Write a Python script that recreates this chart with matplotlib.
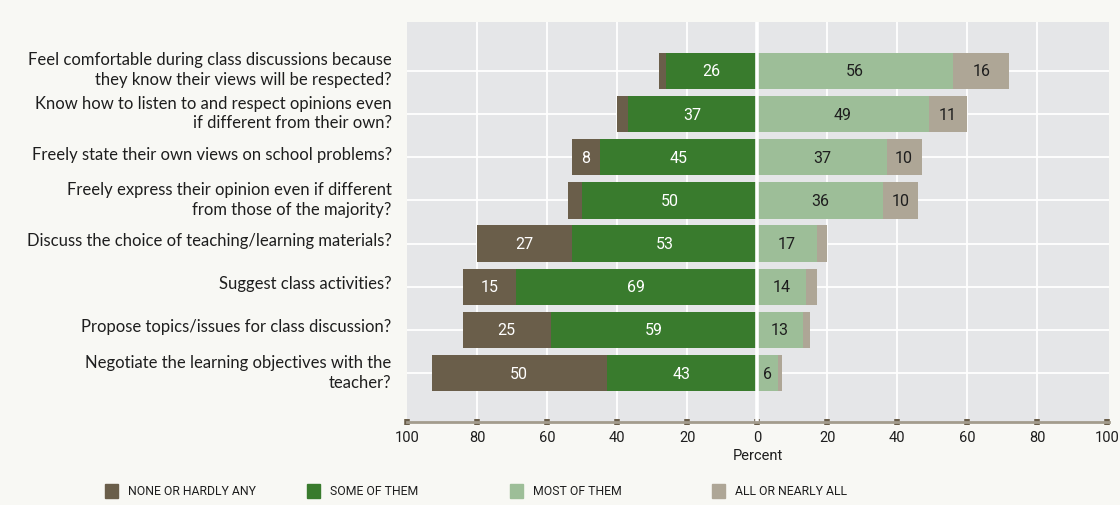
import matplotlib
matplotlib.use("Agg")
import matplotlib.pyplot as plt
import matplotlib.transforms as mtransforms
import numpy as np

# ---- data (percent) ----
questions = [
    "Feel comfortable during class discussions because\nthey know their views will be respected?",
    "Know how to listen to and respect opinions even\nif different from their own?",
    "Freely state their own views on school problems?",
    "Freely express their opinion even if different\nfrom those of the majority?",
    "Discuss the choice of teaching/learning materials?",
    "Suggest class activities?",
    "Propose topics/issues for class discussion?",
    "Negotiate the learning objectives with the\nteacher?",
]
none_hardly = [2, 3, 8, 4, 27, 15, 25, 50]
some_of_them = [26, 37, 45, 50, 53, 69, 59, 43]
most_of_them = [56, 49, 37, 36, 17, 14, 13, 6]
all_nearly = [16, 11, 10, 10, 3, 3, 2, 1]
tick_vals = [-100, -80, -60, -40, -20, 0, 20, 40, 60, 80, 100]
series_names = ["NONE OR HARDLY ANY", "SOME OF THEM", "MOST OF THEM", "ALL OR NEARLY ALL"]

BROWN = "#6a5e4a"
DKGREEN = "#397b2d"
LTGREEN = "#9dbe98"
GREY = "#aea696"
PLOTBG = "#e5e6e8"
FIGBG = "#f8f8f4"
INK = "#1e1e1e"

LABEL_FONT = ["Lato", "DejaVu Sans"]
NARROW = ["Liberation Sans Narrow", "Roboto", "DejaVu Sans"]

fig = plt.figure(figsize=(11.2, 5.06), dpi=100)
fig.patch.set_facecolor(FIGBG)
ax = fig.add_axes([407 / 1120, 83 / 506, 702 / 1120, 400 / 506])
ax.set_facecolor(PLOTBG)

y = np.arange(len(questions))
none_a = np.array(none_hardly)
some_a = np.array(some_of_them)
most_a = np.array(most_of_them)
all_a = np.array(all_nearly)
h = 0.84

segs = [
    (-some_a - none_a, none_a, BROWN, "white"),
    (-some_a, some_a, DKGREEN, "white"),
    (np.zeros_like(most_a), most_a, LTGREEN, INK),
    (most_a, all_a, GREY, INK),
]
for left, width, col, tcol in segs:
    ax.barh(y, width, left=left, height=h, color=col, zorder=2)
    for yi, l, w in zip(y, left, width):
        if w >= 5:
            ax.text(l + w / 2, yi, str(w), ha="center", va="center", color=tcol,
                    fontsize=11.5, family=NARROW, zorder=4)

ax.axvline(0, color="white", lw=2.6, zorder=2.2)
for xv in tick_vals[1:-1]:
    if xv != 0:
        ax.axvline(xv, color="white", lw=1.3, zorder=1)
for yi in y:
    ax.axhline(yi, color="white", lw=1.3, zorder=1)

ax.set_xlim(-100, 100.5)
ax.set_ylim(len(questions) - 1 + 1.13, -1.13)
ax.set_yticks(y)
ax.set_yticklabels(questions, family=LABEL_FONT, fontsize=12, color=INK, linespacing=1.3)
ax.tick_params(axis="y", length=0, pad=11)
# labels sit slightly above the bar centres in the original
shift = mtransforms.ScaledTranslation(0, 5 / 100, fig.dpi_scale_trans)
for lab in ax.get_yticklabels():
    lab.set_transform(lab.get_transform() + shift)

ax.set_xticks(tick_vals)
ax.set_xticklabels([str(abs(v)) for v in tick_vals], family=NARROW, fontsize=10.5, color=INK)
ax.tick_params(axis="x", direction="inout", length=4, width=4, color=BROWN, pad=4)
for s in ["top", "right", "left"]:
    ax.spines[s].set_visible(False)
ax.spines["bottom"].set_color("#a39c8d")
ax.spines["bottom"].set_linewidth(2)
ax.spines["bottom"].set_zorder(2.5)
ax.set_xlabel("Percent", family=NARROW, fontsize=10.5, color=INK, labelpad=3)

# legend
leg_x = [105, 307, 510, 712]
for xp, name, col in zip(leg_x, series_names, [BROWN, DKGREEN, LTGREEN, GREY]):
    fig.patches.append(plt.Rectangle((xp / 1120, (506 - 499) / 506), 13 / 1120, 14 / 506,
                                     transform=fig.transFigure, color=col, figure=fig))
    fig.text((xp + 23) / 1120, (506 - 492) / 506, name, family=NARROW, fontsize=8.8,
             color=INK, va="center", ha="left")

fig.savefig("out.png", facecolor=FIGBG)
